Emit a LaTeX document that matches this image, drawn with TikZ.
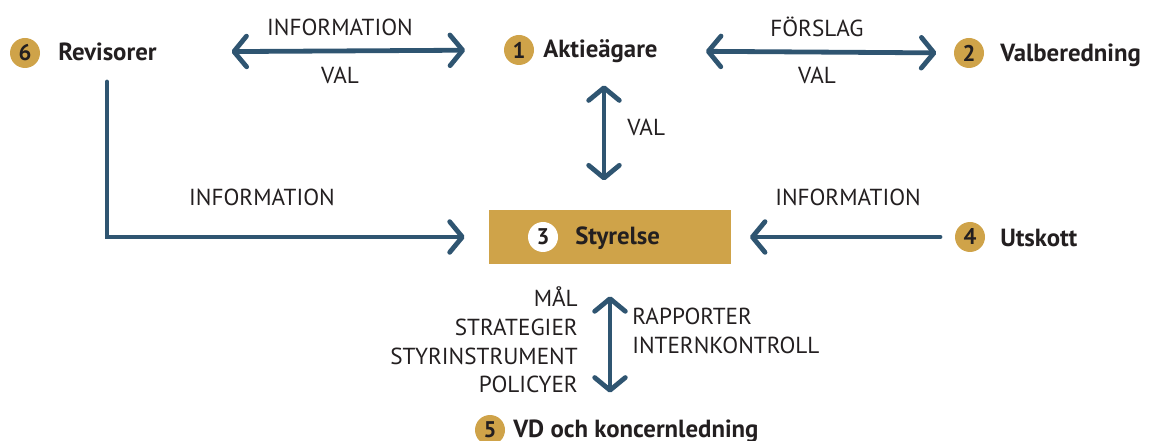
\documentclass[tikz,border=0pt]{standalone}
\usepackage{fontspec}
\setmainfont{PT Sans}
\usepackage{xcolor}
\definecolor{cArrow}{HTML}{2F5571}
\definecolor{cGold}{HTML}{CFA349}
\definecolor{ink}{HTML}{231F20}
\usetikzlibrary{arrows.meta,positioning}

\begin{document}
\begin{tikzpicture}[
  x=0.75pt,y=-0.75pt,
  font=\fontsize{17.4}{21.5}\selectfont,text=ink,
  num/.style={circle,fill=cGold,minimum size=22.5pt,inner sep=0pt,
    font=\fontsize{17}{17}\selectfont\bfseries},
  lbl/.style={font=\fontsize{18.6}{20}\selectfont\bfseries,inner sep=0pt,anchor=west},
  flow/.style={inner sep=0pt},
  arr/.style={{Straight Barb[length=9.5pt,width=23pt,line cap=round,line join=round]}-{Straight Barb[length=9.5pt,width=23pt,line cap=round,line join=round]},
    cArrow,line width=3.6pt,line cap=round},
  oneway/.style={-{Straight Barb[length=9.5pt,width=23pt,line cap=round,line join=round]},
    cArrow,line width=3.6pt,line cap=round}]
\useasboundingbox (0,0) rectangle (1149,441);

% the six bodies
\node[num] (n6) at (25,53) {6};
\node[lbl] (rev) at (58,52) {Revisorer};
\node[num] (n1) at (519,50) {1};
\node[lbl] (aktie) at (543,51) {Aktieägare};
\node[num] (n2) at (969,53) {2};
\node[lbl] (valb) at (1000,55) {Valberedning};
\node[fill=cGold,minimum width=181.5pt,minimum height=40.5pt,inner sep=0pt] (styr) at (610,237) {};
\node[num,fill=white] (n3) at (543,237) {3};
\node[lbl] (styrtxt) at (575,238) {Styrelse};
\node[num] (n4) at (970,237) {4};
\node[lbl] (utsk) at (1000,238) {Utskott};
\node[num] (n5) at (490,430) {5};
\node[lbl] (vd) at (513,431) {VD och koncernledning};

% connectors
\draw[arr] (rev.east) -- (n1.west)
  [shorten <=56pt,shorten >=29pt];
\draw[arr] (aktie.east) -- (n2.west)
  [shorten <=36pt,shorten >=13pt];
\draw[arr] (604,60) coordinate (akbot) -- (akbot |- styr.north)
  [shorten <=19pt,shorten >=22pt];
\draw[oneway] (107,62) coordinate (revbot) |- (styr.west)
  [shorten <=15pt,shorten >=18pt];
\draw[oneway] (n4.west) -- (styr.east)
  [shorten <=11pt,shorten >=14pt];
\draw[arr] (styr.south) -- (styr.south |- vd.north)
  [shorten <=24pt,shorten >=20pt];

% flow texts
\node[flow] (t61a) at (340,27) {INFORMATION};
\node[flow] (t61b) at (340,75) {VAL};
\node[flow] (t12a) at (817,27) {FÖRSLAG};
\node[flow] (t12b) at (817,75) {VAL};
\node[flow,anchor=west] (t13) at (627,127) {VAL};
\node[flow] (t63) at (262,197) {INFORMATION};
\node[flow] (t43) at (848,197) {INFORMATION};
\node[flow,anchor=east,align=right] (t35a) at (578,340) {MÅL\\STRATEGIER\\STYRINSTRUMENT\\POLICYER};
\node[flow,anchor=west,align=left] (t35b) at (632,331) {RAPPORTER\\INTERNKONTROLL};
\end{tikzpicture}
\end{document}
